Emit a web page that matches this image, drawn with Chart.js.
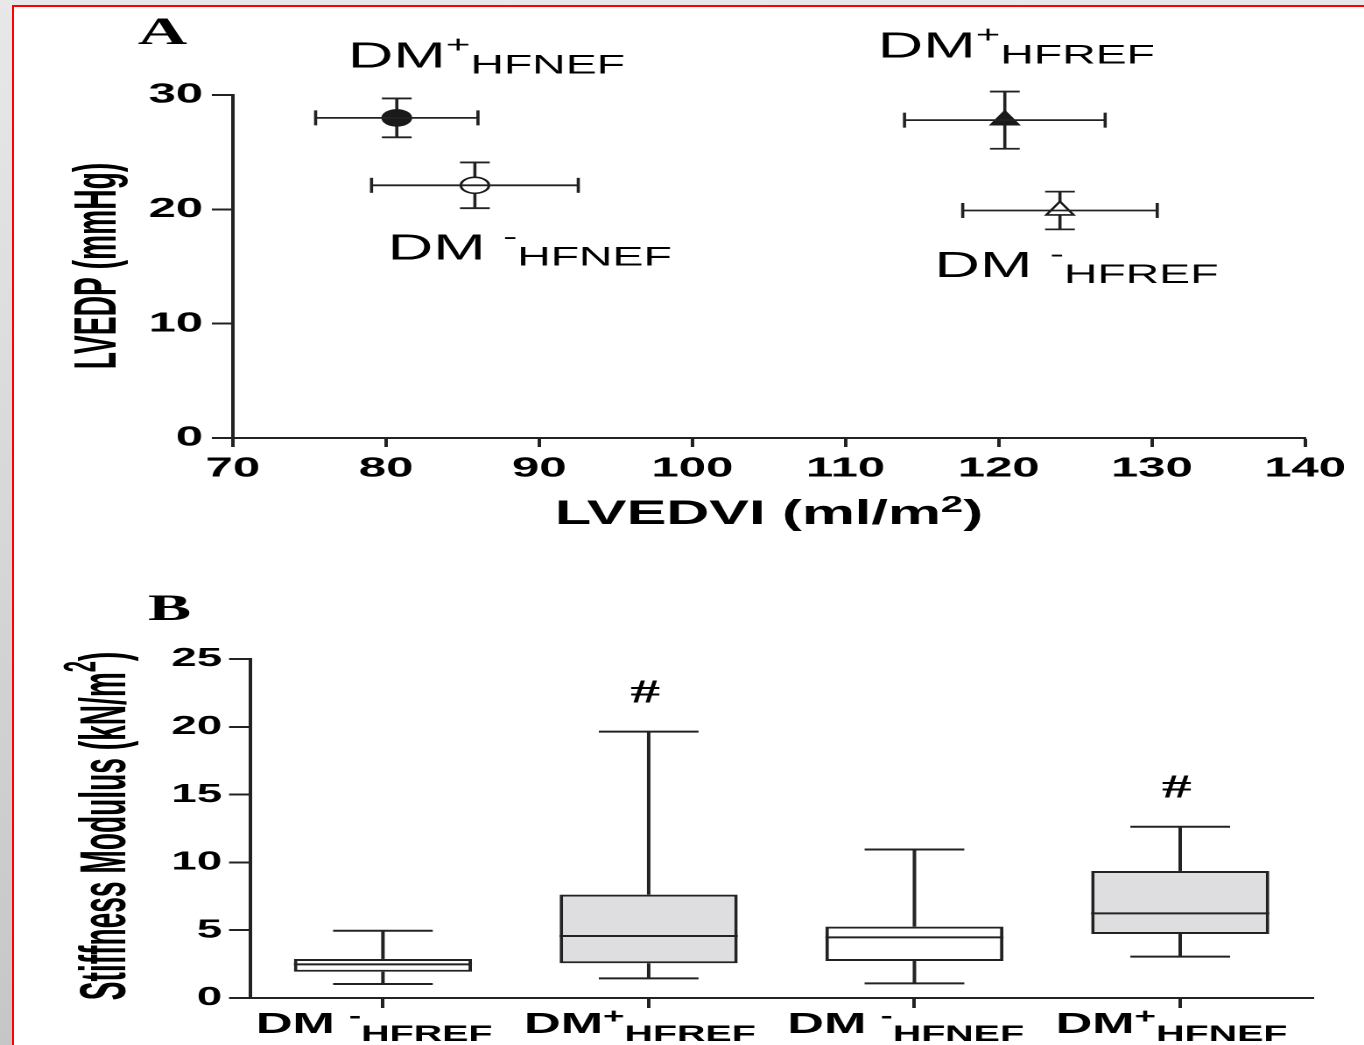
<!DOCTYPE html>
<html>
<head>
<meta charset="utf-8">
<title>LVEDP vs LVEDVI and stiffness modulus</title>
<script src="https://cdn.jsdelivr.net/npm/chart.js@4.4.1/dist/chart.umd.min.js"></script>
<style>
  html, body { margin: 0; padding: 0; }
  body {
    width: 1364px; height: 1045px; overflow: hidden; position: relative;
    background: linear-gradient(#e8e8e8, #c6c6c6);
  }
  #frame {
    position: absolute; left: 12px; top: 5px; right: 0; bottom: 0;
    background: #fff; border-left: 2px solid #f00; border-top: 2px solid #f00;
  }
  /* the original figure is stretched sideways, so each panel is drawn narrow and widened */
  .panel { position: absolute; left: 0; width: 779px; transform: scaleX(1.751); transform-origin: 0 0; }
  #panelA { top: 0; height: 545px; }
  #panelB { top: 545px; height: 500px; }
</style>
</head>
<body>
<div id="frame"></div>
<div class="panel" id="panelA"><canvas id="chartA"></canvas></div>
<div class="panel" id="panelB"><canvas id="chartB"></canvas></div>
<script>
// ---- panel A: LVEDP against LVEDVI, mean +/- error ----
const groupSign = ["+", "-", "+", "-"];
const groupSub = ["HFNEF", "HFNEF", "HFREF", "HFREF"];
const lvedvi = [80.7, 85.8, 120.4, 124.0];
const lvedviErr = [5.3, 6.75, 6.55, 6.35];
const lvedp = [28.0, 22.1, 27.8, 19.9];
const lvedpErr = [1.7, 2.0, 2.5, 1.65];
const xTicksA = [70, 80, 90, 100, 110, 120, 130, 140];
const yTicksA = [0, 10, 20, 30];

// ---- panel B: stiffness modulus box plots ----
const boxSign = ["-", "+", "-", "+"];
const boxSub = ["HFREF", "HFREF", "HFNEF", "HFNEF"];
const whiskerLow = [1.03, 1.45, 1.08, 3.05];
const q1 = [1.94, 2.56, 2.73, 4.72];
const median = [2.48, 4.57, 4.47, 6.24];
const q3 = [2.88, 7.62, 5.26, 9.37];
const whiskerHigh = [4.96, 19.64, 10.95, 12.63];
const sigMark = ["", "#", "", "#"];
const yTicksB = [0, 5, 10, 15, 20, 25];

// ---- styles / layout ----
const SANS = '"Liberation Sans", Arial, sans-serif';
const SERIF = '"Liberation Serif", "Times New Roman", serif';
const INK = "#222";
const markerStyle = ["circle", "circle", "triangle", "triangle"];
const markerFill = ["#1a1a1a", "#fff", "#1a1a1a", "#fff"];
const markerSize = [8, 8, 9, 9];
const boxFill = ["#fff", "#dedee0", "#fff", "#dedee0"];
// where each group name sits in panel A, in axis units (left of "DM", baseline)
const groupLabelAt = [[77.5, 32.4], [80.1, 15.6], [112.1, 33.3], [115.8, 14.1]];

function drawRich(ctx, parts, x, y, align) {
  let w = 0;
  parts.forEach(p => { ctx.font = p.font; p.w = ctx.measureText(p.t).width; w += p.w; });
  let cx = align === "center" ? x - w / 2 : x;
  ctx.textAlign = "left";
  ctx.textBaseline = "alphabetic";
  parts.forEach(p => { ctx.font = p.font; ctx.fillText(p.t, cx, y + (p.dy || 0)); cx += p.w; });
  return w;
}

function groupParts(sign, sub, f) {
  return [
    { t: sign === "-" ? "DM " : "DM", font: f.main },
    { t: sign, font: f.sup, dy: -f.rise },
    { t: sub, font: f.sub, dy: f.drop },
  ];
}

function rotatedTitle(ctx, parts, x, y, squeeze) {
  ctx.save();
  ctx.translate(x, y);
  ctx.rotate(-Math.PI / 2);
  ctx.scale(squeeze, 1);
  ctx.fillStyle = "#000";
  drawRich(ctx, parts, 0, 0, "center");
  ctx.restore();
}

function line(ctx, x0, y0, x1, y1) {
  ctx.beginPath();
  ctx.moveTo(x0, y0);
  ctx.lineTo(x1, y1);
  ctx.stroke();
}

const scatterExtras = {
  id: "scatterExtras",
  beforeDatasetsDraw(chart) {
    const { ctx, scales: { x, y } } = chart;
    ctx.save();
    ctx.strokeStyle = INK;
    ctx.lineWidth = 1.8;
    lvedp.forEach((v, i) => {
      const px = x.getPixelForValue(lvedvi[i]);
      const top = y.getPixelForValue(v + lvedpErr[i]);
      const bot = y.getPixelForValue(v - lvedpErr[i]);
      line(ctx, px, top, px, bot);
      line(ctx, px - 8.5, top, px + 8.5, top);
      line(ctx, px - 8.5, bot, px + 8.5, bot);
    });
    ctx.restore();
  },
  afterDatasetsDraw(chart) {
    const { ctx, scales: { x, y } } = chart;
    ctx.save();
    ctx.strokeStyle = INK;
    ctx.lineWidth = 1.8;
    lvedvi.forEach((v, i) => {
      const py = y.getPixelForValue(lvedp[i]);
      const l = x.getPixelForValue(v - lvedviErr[i]);
      const r = x.getPixelForValue(v + lvedviErr[i]);
      line(ctx, l, py, r, py);
      line(ctx, l, py - 7.5, l, py + 7.5);
      line(ctx, r, py - 7.5, r, py + 7.5);
    });
    ctx.fillStyle = "#000";
    const f = { main: `36px ${SANS}`, sup: `24px ${SANS}`, sub: `26.5px ${SANS}`, rise: 15, drop: 6 };
    groupLabelAt.forEach(([gx, gy], i) => {
      drawRich(ctx, groupParts(groupSign[i], groupSub[i], f), x.getPixelForValue(gx), y.getPixelForValue(gy), "left");
    });
    ctx.restore();
  },
  afterDraw(chart) {
    const { ctx, chartArea } = chart;
    ctx.save();
    ctx.fillStyle = "#000";
    drawRich(ctx, [
      { t: "LVEDVI (ml/m", font: `bold 34px ${SANS}` },
      { t: "2", font: `bold 23px ${SANS}`, dy: -12 },
      { t: ")", font: `bold 34px ${SANS}` },
    ], (chartArea.left + chartArea.right) / 2, 524, "center");
    ctx.font = `bold 39px ${SERIF}`;
    ctx.fillText("A", 78.8, 44);
    ctx.restore();
    rotatedTitle(ctx, [{ t: "LVEDP (mmHg)", font: `bold 34px ${SANS}` }], 66, 266, 0.83);
  },
};

const boxExtras = {
  id: "boxExtras",
  afterDatasetsDraw(chart) {
    const { ctx, scales: { y } } = chart;
    const bars = chart.getDatasetMeta(0).data;
    ctx.save();
    ctx.strokeStyle = INK;
    ctx.lineWidth = 2;
    bars.forEach((bar, i) => {
      const cx = bar.x, half = bar.width / 2, cap = half * 0.56;
      const yMed = y.getPixelForValue(median[i]);
      const yQ1 = y.getPixelForValue(q1[i]), yQ3 = y.getPixelForValue(q3[i]);
      const yLo = y.getPixelForValue(whiskerLow[i]), yHi = y.getPixelForValue(whiskerHigh[i]);
      line(ctx, cx - half, yMed, cx + half, yMed);
      line(ctx, cx, yQ3, cx, yHi);
      line(ctx, cx - cap, yHi, cx + cap, yHi);
      line(ctx, cx, yQ1, cx, yLo);
      line(ctx, cx - cap, yLo, cx + cap, yLo);
      if (sigMark[i]) {
        ctx.fillStyle = "#000";
        ctx.font = `bold 34px ${SERIF}`;
        ctx.textAlign = "center";
        ctx.textBaseline = "middle";
        ctx.fillText(sigMark[i], cx - 2, yHi - 38);
      }
    });
    ctx.restore();
  },
  afterDraw(chart) {
    const { ctx, chartArea, scales: { x } } = chart;
    ctx.save();
    ctx.fillStyle = "#000";
    const f = { main: `bold 29px ${SANS}`, sup: `bold 21px ${SANS}`, sub: `bold 22.5px ${SANS}`, rise: 10, drop: 8 };
    boxSub.forEach((sub, i) => {
      drawRich(ctx, groupParts(boxSign[i], sub, f), x.getPixelForTick(i) - 5, chartArea.bottom + 35, "center");
    });
    ctx.font = `bold 37px ${SERIF}`;
    ctx.fillText("B", 84.5, 75);
    ctx.restore();
    rotatedTitle(ctx, [
      { t: "Stiffness Modulus (kN/m", font: `bold 37px ${SANS}` },
      { t: "2", font: `bold 26px ${SANS}`, dy: -17 },
      { t: ")", font: `bold 37px ${SANS}` },
    ], 71.4, 281, 0.76);
  },
};

function axisStyle(tickLength) {
  return {
    grid: { drawOnChartArea: false, drawTicks: true, tickLength: tickLength, tickWidth: 2, tickColor: INK },
    border: { display: true, color: INK, width: 2 },
  };
}

new Chart(document.getElementById("chartA"), {
  type: "scatter",
  data: {
    datasets: [{
      data: lvedvi.map((v, i) => ({ x: v, y: lvedp[i] })),
      pointStyle: markerStyle,
      pointRadius: markerSize,
      pointBackgroundColor: markerFill,
      pointBorderColor: "#1a1a1a",
      pointBorderWidth: 1.6,
    }],
  },
  options: {
    responsive: true,
    maintainAspectRatio: false,
    animation: false,
    events: [],
    devicePixelRatio: 2,
    layout: { padding: { left: 73, right: 33.7, top: 95, bottom: 7 } },
    plugins: { legend: { display: false }, tooltip: { enabled: false } },
    scales: {
      x: {
        type: "linear", min: 70, max: 140,
        afterBuildTicks: s => { s.ticks = xTicksA.map(v => ({ value: v })); },
        afterFit: s => { s.height = 100; },
        ticks: { font: { family: SANS, size: 28, weight: "bold" }, color: "#000", padding: 5, maxRotation: 0, autoSkip: false },
        ...axisStyle(9),
      },
      y: {
        type: "linear", min: 0, max: 30,
        afterBuildTicks: s => { s.ticks = yTicksA.map(v => ({ value: v })); },
        afterFit: s => { s.width = 60; },
        ticks: { font: { family: SANS, size: 28, weight: "bold" }, color: "#000", padding: 5 },
        ...axisStyle(12),
      },
    },
  },
  plugins: [scatterExtras],
});

new Chart(document.getElementById("chartB"), {
  type: "bar",
  data: {
    labels: boxSub.map((s, i) => "DM" + boxSign[i] + s),
    datasets: [{
      data: q1.map((v, i) => [v, q3[i]]),
      backgroundColor: boxFill,
      borderColor: INK,
      borderWidth: 2,
      borderSkipped: false,
      barPercentage: 0.67,
      categoryPercentage: 1,
    }],
  },
  options: {
    responsive: true,
    maintainAspectRatio: false,
    animation: false,
    events: [],
    devicePixelRatio: 2,
    layout: { padding: { left: 82.8, right: 29.1, top: 114, bottom: 2 } },
    plugins: { legend: { display: false }, tooltip: { enabled: false } },
    scales: {
      x: {
        type: "category", offset: true,
        afterFit: s => { s.height = 45; },
        ticks: { display: false },
        ...axisStyle(10),
        grid: { offset: false, drawOnChartArea: false, drawTicks: true, tickLength: 10, tickWidth: 2, tickColor: INK },
      },
      y: {
        type: "linear", min: 0, max: 25,
        afterBuildTicks: s => { s.ticks = yTicksB.map(v => ({ value: v })); },
        afterFit: s => { s.width = 60; },
        ticks: { font: { family: SANS, size: 26, weight: "bold" }, color: "#000", padding: 4 },
        ...axisStyle(12),
      },
    },
  },
  plugins: [boxExtras],
});
</script>
</body>
</html>
